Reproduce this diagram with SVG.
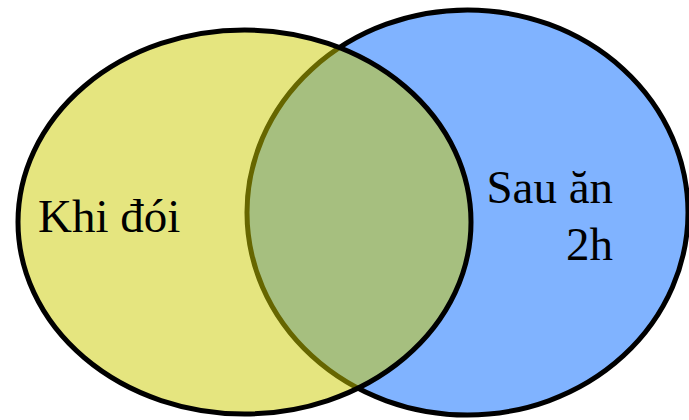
<svg xmlns="http://www.w3.org/2000/svg" width="689" height="420" viewBox="0 0 689 420">
<style>
.c{stroke:#000;stroke-width:5}
.t{font-family:"Liberation Serif","Times New Roman",serif;font-size:47px;fill:#000}
</style>
<rect width="689" height="420" fill="#fff"/>
<g id="after-meal">
<ellipse class="c" cx="467.5" cy="212.5" rx="220.5" ry="202.5" fill="#80b3ff"/>
</g>
<g id="fasting">
<ellipse class="c" cx="244.5" cy="222" rx="226.5" ry="192" fill="#cccc00" fill-opacity="0.5"/>
</g>
<g id="labels">
<text class="t" x="38" y="232">Khi đói</text>
<text class="t" x="613" y="203" text-anchor="end">Sau ăn</text>
<text class="t" x="613" y="260" text-anchor="end">2h</text>
</g>
<g id="connectors"/>
</svg>
